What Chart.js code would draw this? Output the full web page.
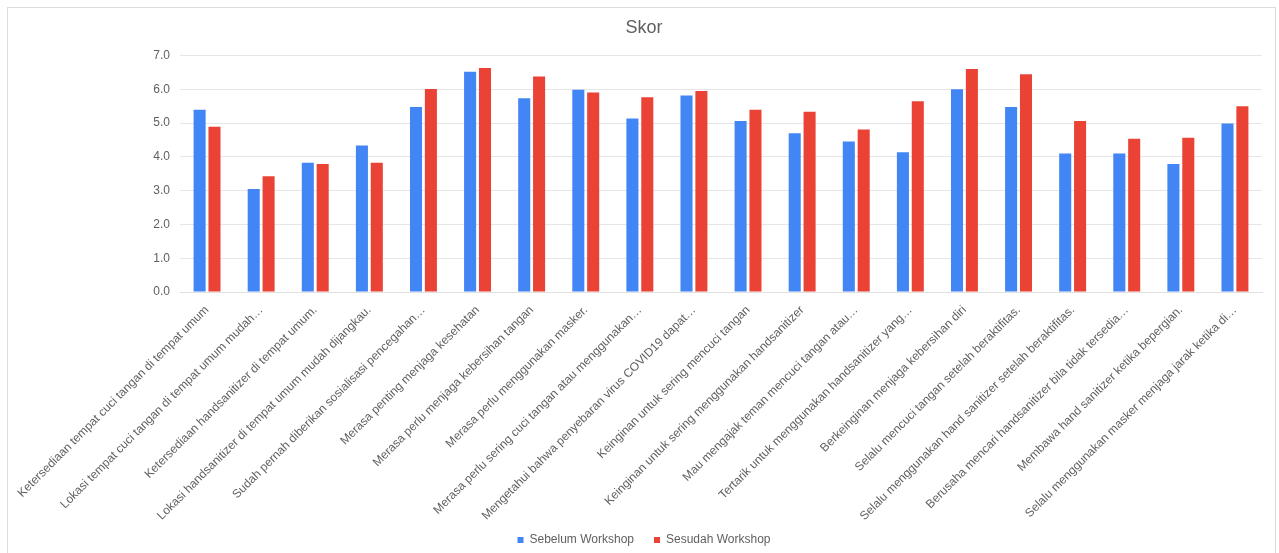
<!DOCTYPE html>
<html>
<head>
<meta charset="utf-8">
<script src="https://cdn.jsdelivr.net/npm/chart.js@4"></script>
<style>
  html, body { margin: 0; padding: 0; background: #fff; }
  #wrap { position: relative; width: 1279px; height: 553px; overflow: hidden; }
  #frame { position: absolute; left: 7px; top: 7px; width: 1269px; height: 600px; border: 1px solid #dcdcdc; box-sizing: border-box; }
  canvas { position: absolute; left: 0; top: 0; }
</style>
</head>
<body>
<div id="wrap">
  <div id="frame"></div>
  <canvas id="c" width="1279" height="553"></canvas>
</div>
<script>
const categories = [
  "Ketersediaan tempat cuci tangan di tempat umum",
  "Lokasi tempat cuci tangan di tempat umum mudah\u2026",
  "Ketersediaan handsanitizer di tempat umum.",
  "Lokasi handsanitizer di tempat umum mudah dijangkau.",
  "Sudah pernah diberikan sosialisasi pencegahan\u2026",
  "Merasa penting menjaga kesehatan",
  "Merasa perlu menjaga kebersihan tangan",
  "Merasa perlu menggunakan masker.",
  "Merasa perlu sering cuci tangan atau menggunakan\u2026",
  "Mengetahui bahwa penyebaran virus COVID19 dapat\u2026",
  "Keinginan untuk sering mencuci tangan",
  "Keinginan untuk sering menggunakan handsanitizer",
  "Mau mengajak teman mencuci tangan atau\u2026",
  "Tertarik untuk menggunakan handsanitizer yang\u2026",
  "Berkeinginan menjaga kebersihan diri",
  "Selalu mencuci tangan setelah beraktifitas.",
  "Selalu menggunakan hand sanitizer setelah beraktifitas.",
  "Berusaha mencari handsanitizer bila tidak tersedia\u2026",
  "Membawa hand sanitizer ketika bepergian.",
  "Selalu menggunakan masker menjaga jarak ketika di\u2026"
];
const sebelum = [5.40, 3.05, 3.83, 4.34, 5.48, 6.52, 5.74, 5.99, 5.14, 5.82, 5.06, 4.70, 4.46, 4.14, 6.00, 5.48, 4.10, 4.10, 3.79, 4.99];
const sesudah = [4.89, 3.43, 3.79, 3.83, 6.01, 6.63, 6.38, 5.91, 5.77, 5.95, 5.40, 5.34, 4.81, 5.65, 6.60, 6.45, 5.06, 4.54, 4.57, 5.50];
const seriesNames = ["Sebelum Workshop", "Sesudah Workshop"];
const yTicks = [0, 1, 2, 3, 4, 5, 6, 7];

const FONT = "'Liberation Sans', Arial, sans-serif";
const TXT = "#5f5f5f";

new Chart(document.getElementById('c'), {
  type: 'bar',
  data: {
    labels: categories,
    datasets: [
      { label: seriesNames[0], data: sebelum, backgroundColor: '#4285F4', categoryPercentage: 0.55, barPercentage: 0.81 },
      { label: seriesNames[1], data: sesudah, backgroundColor: '#EA4335', categoryPercentage: 0.55, barPercentage: 0.81 }
    ]
  },
  options: {
    responsive: false,
    animation: false,
    devicePixelRatio: 1,
    layout: { padding: { left: 9, right: 0, top: 0, bottom: -3 } },
    plugins: {
      title: {
        display: true, text: 'Skor', color: TXT,
        font: { family: FONT, size: 18, weight: 'normal' },
        padding: { top: 17, bottom: 17 }
      },
      legend: {
        position: 'bottom',
        labels: {
          color: TXT, boxWidth: 6, boxHeight: 6,
          font: { family: FONT, size: 12 }, padding: 20
        }
      },
      tooltip: { enabled: false }
    },
    scales: {
      x: {
        grid: { display: false },
        border: { display: true, color: '#e0e0e0' },
        ticks: {
          autoSkip: false, maxRotation: 45, minRotation: 45,
          color: TXT, font: { family: FONT, size: 12 }, padding: 3
        },
        afterFit: (s) => { s.height = 222; s._computeLabelArea = () => undefined; }
      },
      y: {
        min: 0, max: 7,
        afterBuildTicks: (s) => { s.ticks = yTicks.map(v => ({ value: v })); },
        grid: { color: '#e6e6e6', drawTicks: false },
        border: { display: false },
        ticks: {
          color: TXT, font: { family: FONT, size: 12 }, padding: 10,
          callback: (v) => Number(v).toFixed(1)
        },
        afterFit: (s) => { s.width = 171; }
      },
      y2: {
        position: 'right', min: 0, max: 7,
        grid: { display: false, drawOnChartArea: false },
        border: { display: false },
        ticks: { display: false },
        afterFit: (s) => { s.width = 17; }
      }
    }
  }
});
</script>
</body>
</html>
